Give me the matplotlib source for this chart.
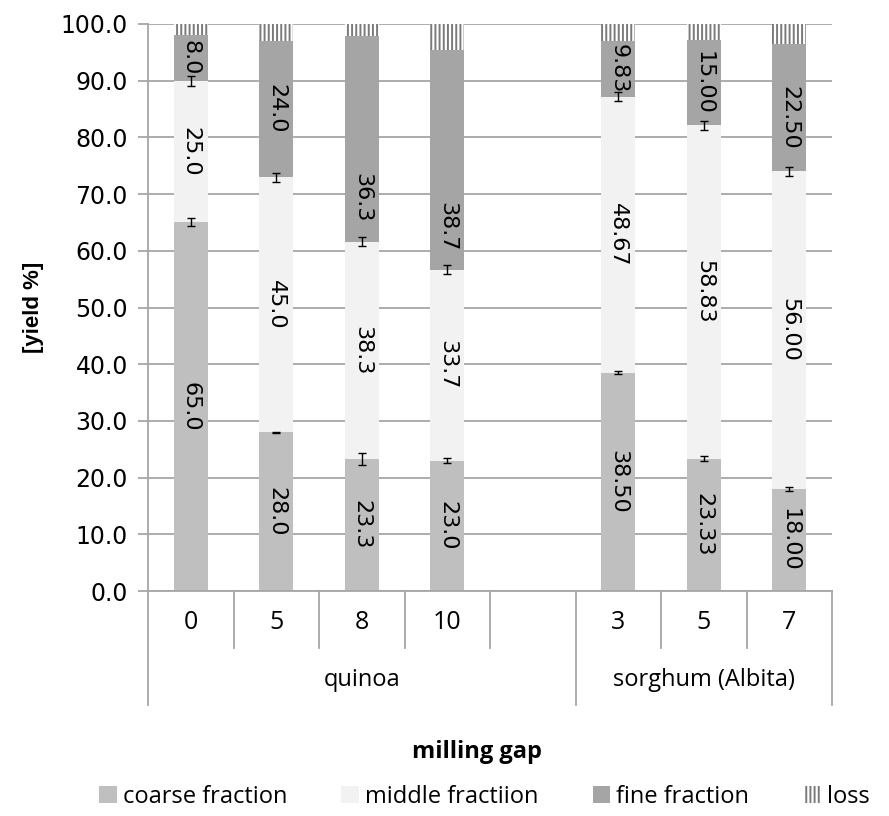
import matplotlib
matplotlib.use("Agg")
import matplotlib.pyplot as plt
import matplotlib.patches as mpatches
import numpy as np

# ── data ──
gaps = ["0", "5", "8", "10", "3", "5", "7"]
groups = ["quinoa", "sorghum (Albita)"]
group_sizes = [4, 3]
coarse = [65.0, 28.0, 23.3, 23.0, 38.50, 23.33, 18.00]
middle = [25.0, 45.0, 38.3, 33.7, 48.67, 58.83, 56.00]
fine = [8.0, 24.0, 36.3, 38.7, 9.83, 15.00, 22.50]
loss = [2.0, 3.0, 2.1, 4.6, 3.0, 2.84, 3.5]
coarse_err = [0.7, 0.1, 1.0, 0.4, 0.3, 0.4, 0.3]
middle_err = [0.9, 0.8, 0.8, 0.8, 0.8, 0.8, 0.8]
decimals = [1, 1, 1, 1, 2, 2, 2]

# styling
C_COARSE = "#BFBFBF"
C_MIDDLE = "#F2F2F2"
C_FINE = "#A5A5A5"
C_LOSS_LINE = "#7A7A7A"
C_GRID = "#A6A6A6"
CAT_FONT = ["Open Sans", "DejaVu Sans"]
NUM_FONT = "DejaVu Sans"
fine_label_shift = [0, 0, -10.3, -11.8, 0, 0, -1.8]

plt.rcParams["hatch.color"] = C_LOSS_LINE
plt.rcParams["hatch.linewidth"] = 1.4

fig = plt.figure(figsize=(8.89, 8.16), dpi=100)
ax = fig.add_axes([0.1665, 0.2757, 0.7695, 0.6949])

# slot positions: quinoa 0-3, empty slot 4, sorghum 5-7
x = np.array([0, 1, 2, 3, 5, 6, 7])
w = 0.4
coarse = np.array(coarse)
middle = np.array(middle)
fine = np.array(fine)
loss = np.array(loss)

ax.bar(x, coarse, w, color=C_COARSE, zorder=2)
ax.bar(x, middle, w, bottom=coarse, color=C_MIDDLE, zorder=2)
ax.bar(x, fine, w, bottom=coarse + middle, color=C_FINE, zorder=2)
ax.bar(x, loss, w, bottom=coarse + middle + fine, color="white",
       hatch="||||", edgecolor=C_LOSS_LINE, linewidth=0, zorder=2)

# error bars at top of coarse and middle segments
ax.errorbar(x, coarse, yerr=coarse_err, fmt="none", ecolor="black",
            elinewidth=1, capsize=3, capthick=1, zorder=4)
ax.errorbar(x, coarse + middle, yerr=middle_err, fmt="none", ecolor="black",
            elinewidth=1, capsize=3, capthick=1, zorder=4)

# data labels
for i in range(len(x)):
    fmt = "{:.%df}" % decimals[i]
    ys = [coarse[i] / 2,
          coarse[i] + middle[i] / 2,
          coarse[i] + middle[i] + fine[i] / 2 + fine_label_shift[i]]
    vals = [coarse[i], middle[i], fine[i]]
    for yv, v in zip(ys, vals):
        ax.text(x[i], yv, fmt.format(v), rotation=270, ha="center",
                va="center", fontsize=16, family=NUM_FONT, color="black",
                zorder=5, rotation_mode="anchor")

# axes styling
ax.set_xlim(-0.5, 7.5)
ax.set_ylim(0, 100)
ax.set_yticks(np.arange(0, 101, 10))
ax.set_yticklabels([f"{v:.1f}" for v in np.arange(0, 101, 10)],
                   fontsize=17, family=NUM_FONT)
ax.yaxis.grid(True, color=C_GRID, linewidth=1.3, zorder=0)
ax.set_axisbelow(True)
for s in ["top", "right"]:
    ax.spines[s].set_visible(False)
ax.spines["left"].set_color(C_GRID)
ax.spines["bottom"].set_color(C_GRID)
ax.spines["left"].set_linewidth(1.3)
ax.spines["bottom"].set_linewidth(1.3)
ax.tick_params(axis="y", length=7.5, width=1.3, color=C_GRID, pad=7)
ax.set_xticks([])

ax.set_ylabel("[yield %]", fontsize=16, fontweight="bold",
              family="Liberation Sans", labelpad=12)

# category separators and labels under the axis
trans = ax.get_xaxis_transform()
ax_h = ax.get_position().height * fig.get_figheight() * fig.dpi


def ax_frac(px):
    return -px / ax_h


for b in np.arange(-0.5, 8.0, 1.0):
    long_line = b in (-0.5, 4.5, 7.5)
    ax.plot([b, b], [0, ax_frac(114 if long_line else 57)], transform=trans,
            color=C_GRID, linewidth=1.3, clip_on=False)

for xi, g in zip(x, gaps):
    ax.text(xi, ax_frac(31), g, transform=trans, ha="center", va="center",
            fontsize=18, family=CAT_FONT)

start = -0.5
for g, n in zip(groups, group_sizes):
    end = start + n + (1 if g == "quinoa" else 0)
    ax.text((start + end) / 2, ax_frac(89), g, transform=trans, ha="center",
            va="center", fontsize=17, family=CAT_FONT)
    start = end

fig.text(477 / 889, 1 - 752 / 816, "milling gap", ha="center",
         va="center", fontsize=17, fontweight="bold", family=CAT_FONT)

# legend
handles = [
    mpatches.Patch(facecolor=C_COARSE, edgecolor="none", label="coarse fraction"),
    mpatches.Patch(facecolor=C_MIDDLE, edgecolor="none", label="middle fractiion"),
    mpatches.Patch(facecolor=C_FINE, edgecolor="none", label="fine fraction"),
    mpatches.Patch(facecolor="white", edgecolor=C_LOSS_LINE, hatch="||||",
                   linewidth=0, label="loss"),
]
fig.legend(handles=handles, loc="center", bbox_to_anchor=(0.545, 1 - 797 / 816),
           ncol=4, frameon=False, handlelength=0.75, handleheight=0.75,
           handletextpad=0.25, columnspacing=2.3,
           prop={"family": CAT_FONT, "size": 17})

fig.savefig("out.png", dpi=100, facecolor="white")
